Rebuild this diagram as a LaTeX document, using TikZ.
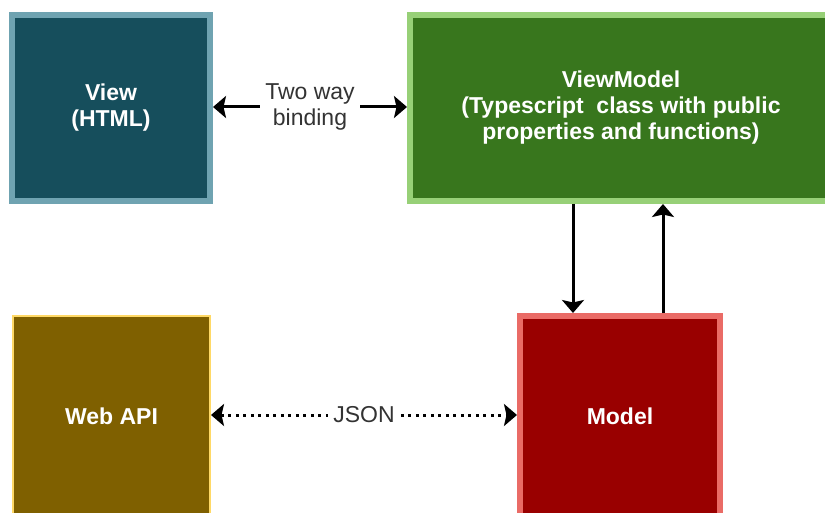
\documentclass[tikz,border=0pt]{standalone}
\usepackage{fontspec}
\setmainfont{Liberation Sans}
\usetikzlibrary{arrows.meta}
\definecolor{viewFill}{HTML}{164E5C}
\definecolor{viewLine}{HTML}{6FA3B1}
\definecolor{vmFill}{HTML}{38761D}
\definecolor{vmLine}{HTML}{97D077}
\definecolor{modelFill}{HTML}{990000}
\definecolor{modelLine}{HTML}{EA6B66}
\definecolor{apiFill}{HTML}{7F6000}
\definecolor{apiLine}{HTML}{FFD966}
\definecolor{labelGray}{HTML}{333333}

\begin{document}
\begin{tikzpicture}[x=1pt,y=-1pt,
  >={Stealth[length=13pt,width=22pt,inset=2.5pt]},
  box/.style={draw,line width=6pt,text=white,align=center,font=\fontsize{23}{26}\selectfont\bfseries},
  lbl/.style={fill=white,text=labelGray,align=center,inner sep=5pt,font=\fontsize{23}{26}\selectfont},
  link/.style={line width=3pt}]
\useasboundingbox (0,0) rectangle (825,513);
\clip (0,0) rectangle (825,513);
\node[box,fill=viewFill,draw=viewLine,minimum width=198pt,minimum height=186pt] (view) at (111,108) {View\\(HTML)};
\node[box,fill=vmFill,draw=vmLine,minimum width=422pt,minimum height=186pt] (vm) at (621,108) {ViewModel\\(Typescript\ \ class with public\\properties and functions)};
\node[box,fill=modelFill,draw=modelLine,minimum width=200pt,minimum height=200pt] (model) at (620,416) {Model};
\node[box,fill=apiFill,draw=apiLine,line width=2pt,minimum width=197pt,minimum height=200pt] (api) at (111.5,416) {Web API};
\coordinate (dn) at ([xshift=-47pt]model.north);
\coordinate (up) at ([xshift=43pt]model.north);
\draw[<->,link] (view.east |- 0,107) -- node[lbl] {Two way\\binding} (vm.west |- 0,107);
\draw[->,link] (vm.south -| dn) -- (dn);
\draw[->,link] (up) -- (vm.south -| up);
\draw[<->,link,dash pattern=on 3pt off 4.5pt] (api.east |- 0,415) -- node[lbl] {JSON} (model.west |- 0,415);
\end{tikzpicture}
\end{document}
